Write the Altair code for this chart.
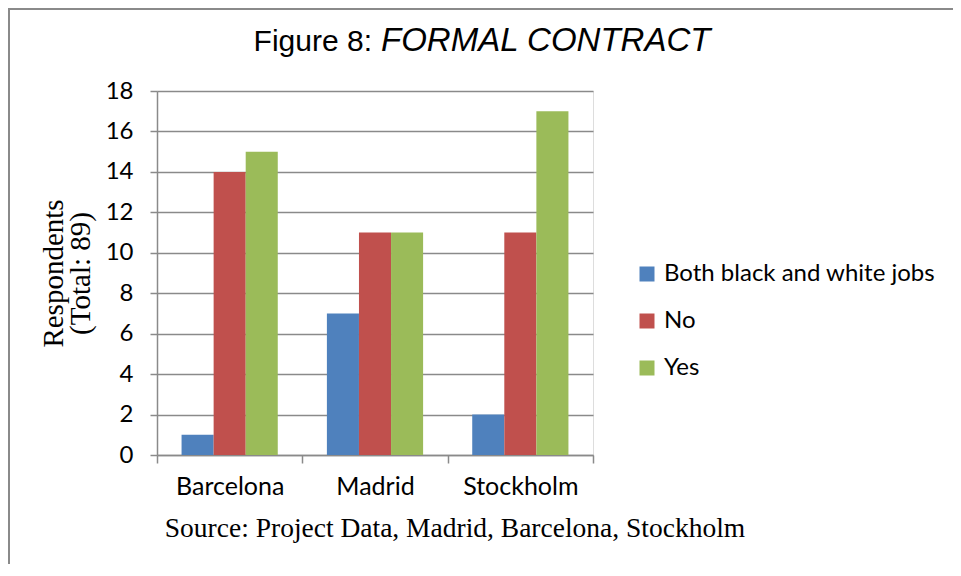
import altair as alt
import pandas as pd

cities = ["Barcelona", "Madrid", "Stockholm"]
series = ["Both black and white jobs", "No", "Yes"]
both_vals = [1, 7, 2]
no_vals = [14, 11, 11]
yes_vals = [15, 11, 17]
colors = ["#4F81BD", "#C0504D", "#9BBB59"]
y_ticks = list(range(0, 19, 2))

rows = []
for s, vals in zip(series, [both_vals, no_vals, yes_vals]):
    for c, v in zip(cities, vals):
        rows.append({"city": c, "series": s, "value": v})
df = pd.DataFrame(rows)

W, H = 436, 364
GRAY = "#8a8a8a"
SANS = "Lato"
SERIF = "Liberation Serif"

bars = alt.Chart(df).mark_bar().encode(
    x=alt.X("city:N", sort=cities,
            scale=alt.Scale(paddingInner=0, paddingOuter=0),
            axis=alt.Axis(title=None, labelAngle=0, tickBand="extent", grid=False,
                          domainColor=GRAY, tickColor=GRAY, tickSize=8, tickWidth=1.5,
                          domainWidth=1.5, labelFont=SANS, labelFontSize=25,
                          labelColor="#000", labelPadding=11)),
    xOffset=alt.XOffset("series:N", sort=series,
                        scale=alt.Scale(paddingInner=0, paddingOuter=0.766)),
    y=alt.Y("value:Q", scale=alt.Scale(domain=[0, 18], nice=False),
            axis=alt.Axis(title=["Respondents", "(Total: 89)"], values=y_ticks,
                          grid=True, gridColor=GRAY, gridWidth=1.5,
                          domainColor=GRAY, domainWidth=1.5, tickColor=GRAY,
                          tickWidth=1.5, tickSize=7, labelFont=SANS,
                          labelFontSize=24, labelColor="#000", labelPadding=17,
                          titleFont=SERIF, titleFontSize=29, titleFontWeight="normal",
                          titleColor="#000", titlePadding=10, titleLineHeight=27)),
    color=alt.Color("series:N", sort=series,
                    scale=alt.Scale(domain=series, range=colors),
                    legend=alt.Legend(title=None, orient="none", legendX=478, legendY=171,
                                      symbolType="square", symbolSize=225,
                                      symbolStrokeWidth=0, labelFont=SANS,
                                      labelFontSize=24, labelColor="#000",
                                      labelLimit=0, rowPadding=23, labelOffset=5)),
)

title_a = alt.Chart(pd.DataFrame({"t": ["Figure 8:"]})).mark_text(
    align="right", baseline="alphabetic", font="Liberation Sans", fontSize=30,
    color="#000"
).encode(text="t:N", x=alt.value(215), y=alt.value(-40))

title_b = alt.Chart(pd.DataFrame({"t": ["FORMAL CONTRACT"]})).mark_text(
    align="left", baseline="alphabetic", font="Liberation Sans", fontSize=33,
    fontStyle="italic", color="#000"
).encode(text="t:N", x=alt.value(224), y=alt.value(-40))

source = alt.Chart(pd.DataFrame({"t": ["Source: Project Data, Madrid, Barcelona, Stockholm"]})).mark_text(
    align="center", baseline="alphabetic", font=SERIF, fontSize=27.5, color="#000"
).encode(text="t:N", x=alt.value(298), y=alt.value(446))

border = alt.Chart(pd.DataFrame({"a": [0]})).mark_rect(
    fill=None, stroke=GRAY, strokeWidth=2, clip=False
).encode(x=alt.value(-148), x2=alt.value(820), y=alt.value(-82), y2=alt.value(520))

chart = alt.layer(border, bars, title_a, title_b, source).properties(
    width=W, height=H,
    autosize=alt.AutoSizeParams(type="none"),
    padding={"left": 149, "top": 83, "right": 360, "bottom": 109},
).configure_view(stroke=None).configure(background="white")

chart.save("out.html", embed_options={"renderer": "svg", "actions": False})
